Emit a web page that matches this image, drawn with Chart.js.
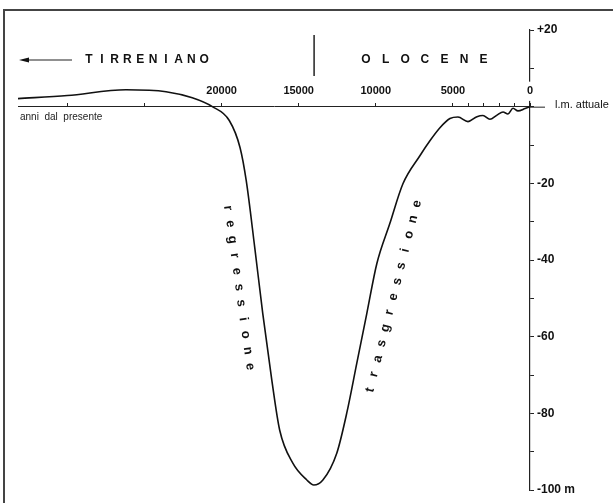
<!DOCTYPE html>
<html>
<head>
<meta charset="utf-8">
<script src="https://cdn.jsdelivr.net/npm/chart.js@4.4.1/dist/chart.umd.min.js"></script>
<style>
  html, body { margin: 0; padding: 0; background: #fff; }
  #wrap { position: relative; width: 613px; height: 503px; }
</style>
</head>
<body>
<div id="wrap"><canvas id="seaChart" width="613" height="503"></canvas></div>
<script>
// anni dal presente (BP) and sea level in metres
const yearsBP = [33200, 30000, 26200, 23600, 21900, 20600, 19500, 18800, 18400, 17850,
                 17330, 16740, 16230, 15380, 14470, 14020, 13430, 12530, 11880, 11230,
                 10580, 9930, 9090, 8240, 7140, 6490, 5840, 5190, 4670, 4020,
                 3440, 3050, 2600, 2140, 1750, 1430, 1100, 780, 320, 0];
const levelM = [2.1, 2.9, 4.4, 3.9, 2.3, 0, -3.6, -10.7, -19.3, -36.7,
                -53.9, -71.4, -84.4, -93.0, -97.4, -98.7, -97.4, -90.4, -79.9, -66.9,
                -53.9, -40.9, -30.5, -20.1, -12.8, -8.9, -5.5, -3.1, -2.7, -3.9,
                -2.6, -2.3, -3.3, -2.2, -1.4, -1.9, -0.4, -1.1, -0.5, 0];

// tick marks on the time axis, and the ones that get a number
const xTickValues = [30000, 25000, 20000, 15000, 10000, 5000, 4000, 3000, 2000, 1000, 0];
const xTickLabels = [20000, 15000, 10000, 5000, 0];
// depth axis labels
const yTickLabels = [20, -20, -40, -60, -80, -100];

const periodLeft = "TIRRENIANO";
const periodRight = "OLOCENE";
const boundaryYear = 14000;

const FONT = "'Liberation Sans', Arial, sans-serif";

function spacedText(ctx, text, x0, y, step) {
    for (let i = 0; i < text.length; i++) {
        ctx.fillText(text[i], x0 + i * step, y);
    }
}

function alongText(ctx, text, x0, y0, angle, step) {
    ctx.save();
    ctx.translate(x0, y0);
    ctx.rotate(angle);
    for (let i = 0; i < text.length; i++) {
        ctx.fillText(text[i], i * step, 0);
    }
    ctx.restore();
}

const decor = {
    id: "decor",
    beforeDraw(chart) {
        const ctx = chart.ctx;
        // picture frame (cut off right and bottom)
        ctx.save();
        ctx.strokeStyle = "#444";
        ctx.lineWidth = 2;
        ctx.beginPath();
        ctx.moveTo(4, 503);
        ctx.lineTo(4, 10);
        ctx.lineTo(613, 10);
        ctx.stroke();
        ctx.restore();
    },
    afterDraw(chart) {
        const { ctx, scales: { x, y } } = chart;
        const y0 = y.getPixelForValue(0);
        ctx.save();
        ctx.strokeStyle = "#222";
        ctx.fillStyle = "#111";
        ctx.lineWidth = 1;

        // sea-level line runs a little past the vertical axis
        ctx.beginPath();
        ctx.moveTo(x.right, y0 + 0.5);
        ctx.lineTo(x.right + 15, y0 + 0.5);
        ctx.stroke();

        // arrow pointing to the past
        ctx.lineWidth = 1.2;
        ctx.beginPath();
        ctx.moveTo(26, 60);
        ctx.lineTo(72, 60);
        ctx.stroke();
        ctx.beginPath();
        ctx.moveTo(19, 60);
        ctx.lineTo(29, 57.5);
        ctx.lineTo(29, 62.5);
        ctx.closePath();
        ctx.fill();

        // boundary between the two periods
        const xb = x.getPixelForValue(boundaryYear);
        ctx.lineWidth = 1.5;
        ctx.beginPath();
        ctx.moveTo(xb, 35);
        ctx.lineTo(xb, 76);
        ctx.stroke();

        ctx.textAlign = "center";
        ctx.textBaseline = "middle";
        ctx.font = "bold 12px " + FONT;
        spacedText(ctx, periodLeft, 89, 60, 12.8);
        spacedText(ctx, periodRight, 366, 60, 19.6);

        ctx.textAlign = "left";
        ctx.font = "11px " + FONT;
        ctx.fillText("l.m. attuale", 555, y0 - 2);

        ctx.font = "10px " + FONT;
        ctx.fillStyle = "#222";
        ctx.fillText("anni  dal  presente", 20, 117);

        ctx.fillStyle = "#111";
        ctx.textAlign = "center";
        ctx.font = "bold 13px " + FONT;
        alongText(ctx, "regressione", 228, 208, Math.atan2(159, 22), 16);
        alongText(ctx, "trasgressione", 370, 390, Math.atan2(-187, 47), 16);
        ctx.restore();
    }
};

const ctx = document.getElementById("seaChart").getContext("2d");
const chart = new Chart(ctx, {
    type: "line",
    data: {
        datasets: [{
            data: yearsBP.map((t, i) => ({ x: t, y: levelM[i] })),
            borderColor: "#111",
            borderWidth: 1.6,
            pointRadius: 0,
            cubicInterpolationMode: "monotone",
            clip: false,
        }],
    },
    options: {
        responsive: false,
        animation: false,
        layout: {
            padding: { left: 18, top: 30, right: 0, bottom: 13 },
        },
        plugins: {
            legend: { display: false },
            tooltip: { enabled: false },
        },
        scales: {
            x: {
                type: "linear",
                reverse: true,
                min: 0,
                max: 33200,
                position: { y: 0 },
                afterBuildTicks: (axis) => {
                    axis.ticks = xTickValues.map((v) => ({ value: v }));
                },
                grid: {
                    drawOnChartArea: false,
                    tickLength: -4,
                    tickColor: "#222",
                },
                border: { color: "#222", width: 1 },
                ticks: {
                    autoSkip: false,
                    maxRotation: 0,
                    padding: -18,
                    z: 1,
                    color: "#111",
                    font: { family: FONT, size: 11, weight: "bold" },
                    showLabelBackdrop: (c) => c.tick && c.tick.value === 0,
                    backdropColor: "#fff",
                    backdropPadding: { top: 3, bottom: 3, left: 2, right: 2 },
                    callback: (v) => (xTickLabels.includes(v) ? String(v) : ""),
                },
            },
            y: {
                type: "linear",
                position: "right",
                min: -100,
                max: 20,
                afterFit: (axis) => {
                    axis.width = 83;
                },
                grid: {
                    drawOnChartArea: false,
                    tickLength: 4,
                    tickColor: "#222",
                },
                border: { color: "#222", width: 1.2 },
                ticks: {
                    stepSize: 10,
                    padding: 3,
                    color: "#111",
                    font: { family: FONT, size: 12, weight: "bold" },
                    callback: (v) => {
                        if (!yTickLabels.includes(v)) return "";
                        if (v > 0) return "+" + v;
                        if (v === -100) return "-100 m";
                        return String(v);
                    },
                },
            },
        },
    },
    plugins: [decor],
});
</script>
</body>
</html>
